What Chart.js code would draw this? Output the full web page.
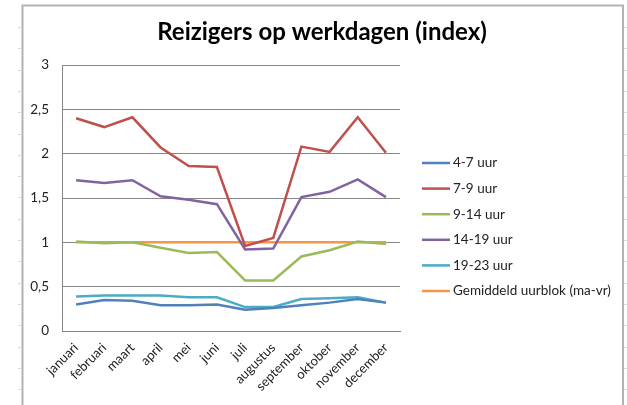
<!DOCTYPE html>
<html><head><meta charset="utf-8">
<script src="https://cdn.jsdelivr.net/npm/chart.js@4"></script>
<style>html,body{margin:0;padding:0;background:#fff}#wrap{width:627px;height:405px}</style>
</head><body><div id="wrap"><canvas id="c" width="627" height="405"></canvas></div>
<script>
const months = ["januari","februari","maart","april","mei","juni","juli","augustus","september","oktober","november","december"];
const s4_7   = [0.30,0.35,0.34,0.29,0.29,0.30,0.24,0.26,0.29,0.32,0.36,0.32];
const s7_9   = [2.40,2.30,2.41,2.07,1.86,1.85,0.96,1.05,2.08,2.02,2.41,2.01];
const s9_14  = [1.01,0.99,1.00,0.94,0.88,0.89,0.57,0.57,0.84,0.91,1.01,0.98];
const s14_19 = [1.70,1.67,1.70,1.52,1.48,1.43,0.92,0.93,1.51,1.57,1.71,1.51];
const s19_23 = [0.39,0.40,0.40,0.40,0.38,0.38,0.27,0.27,0.36,0.37,0.38,0.32];
const sAvg   = [1,1,1,1,1,1,1,1,1,1,1,1];
const seriesNames = ["4-7 uur","7-9 uur","9-14 uur","14-19 uur","19-23 uur","Gemiddeld uurblok (ma-vr)"];
const yTicks = [0,0.5,1,1.5,2,2.5,3];
const titleText = "Reizigers op werkdagen (index)";
const colors = ["#4F81BD","#C0504D","#9BBB59","#8064A2","#4BACC6","#F79646"];
const FONT = "Lato, 'Open Sans', sans-serif";

const seriesData = [s4_7,s7_9,s9_14,s14_19,s19_23,sAvg];
const datasets = seriesData.map((d,i)=>({
  label: seriesNames[i], data: d, borderColor: colors[i], backgroundColor: colors[i],
  borderWidth: 2.5, pointRadius: 0, tension: 0, fill: false
}));

const framePlugin = {
  id: 'frame',
  beforeDraw(chart){
    const ctx = chart.ctx;
    ctx.save();
    ctx.fillStyle = '#fff'; ctx.fillRect(0,0,chart.width,chart.height);
    ctx.strokeStyle = '#dcdcdc'; ctx.lineWidth = 1;
    for (let y = 27; y < chart.height; y += 21.3) {
      ctx.beginPath(); ctx.moveTo(18, Math.round(y)+0.5); ctx.lineTo(21, Math.round(y)+0.5); ctx.stroke();
      ctx.beginPath(); ctx.moveTo(624, Math.round(y)+0.5); ctx.lineTo(627, Math.round(y)+0.5); ctx.stroke();
    }
    ctx.strokeStyle = '#b3b3b3'; ctx.lineWidth = 2;
    ctx.strokeRect(22.5, 5.5, 600.5, 420);
    ctx.fillStyle = '#000';
    ctx.font = "bold 24px " + FONT;
    ctx.textAlign = 'center'; ctx.textBaseline = 'middle';
    ctx.fillText(titleText, 322, 32);
    ctx.restore();
  }
};

const legendPlugin = {
  id: 'customLegend',
  afterDraw(chart){
    const ctx = chart.ctx;
    ctx.save();
    ctx.font = "13.5px " + FONT;
    ctx.textBaseline = 'middle';
    chart.data.datasets.forEach((ds,i)=>{
      const y = 163 + i*25.6;
      ctx.strokeStyle = ds.borderColor; ctx.lineWidth = 2.5;
      ctx.beginPath(); ctx.moveTo(422, y); ctx.lineTo(450, y); ctx.stroke();
      ctx.fillStyle = '#222';
      ctx.fillText(ds.label, 453, y);
    });
    ctx.restore();
  }
};

new Chart(document.getElementById('c'), {
  type: 'line',
  data: { labels: months, datasets },
  plugins: [framePlugin, legendPlugin],
  options: {
    responsive: false, animation: false, devicePixelRatio: 1,
    layout: { padding: { left: 22, right: 227, top: 65, bottom: 0 } },
    plugins: {
      legend: { display: false },
      tooltip: { enabled: false },
      title: { display: false }
    },
    scales: {
      x: {
        offset: true,
        grid: { display: false },
        border: { display: true, color: '#868686', width: 1 },
        ticks: { color: '#222', font: { family: FONT, size: 13 }, maxRotation: 45, minRotation: 45, autoSkip: false, padding: 1 },
        afterFit(s){ s.height = 74; }
      },
      y: {
        min: 0, max: 3,
        afterBuildTicks(s){ s.ticks = yTicks.map(v=>({value:v})); },
        grid: { color: '#868686', lineWidth: 1, drawTicks: false },
        border: { display: true, color: '#868686', width: 1 },
        ticks: { color: '#222', font: { family: FONT, size: 13.5 }, padding: 13,
          callback: v => String(v).replace('.', ',') },
        afterFit(s){ s.width = 40; }
      }
    }
  }
});
</script></body></html>
